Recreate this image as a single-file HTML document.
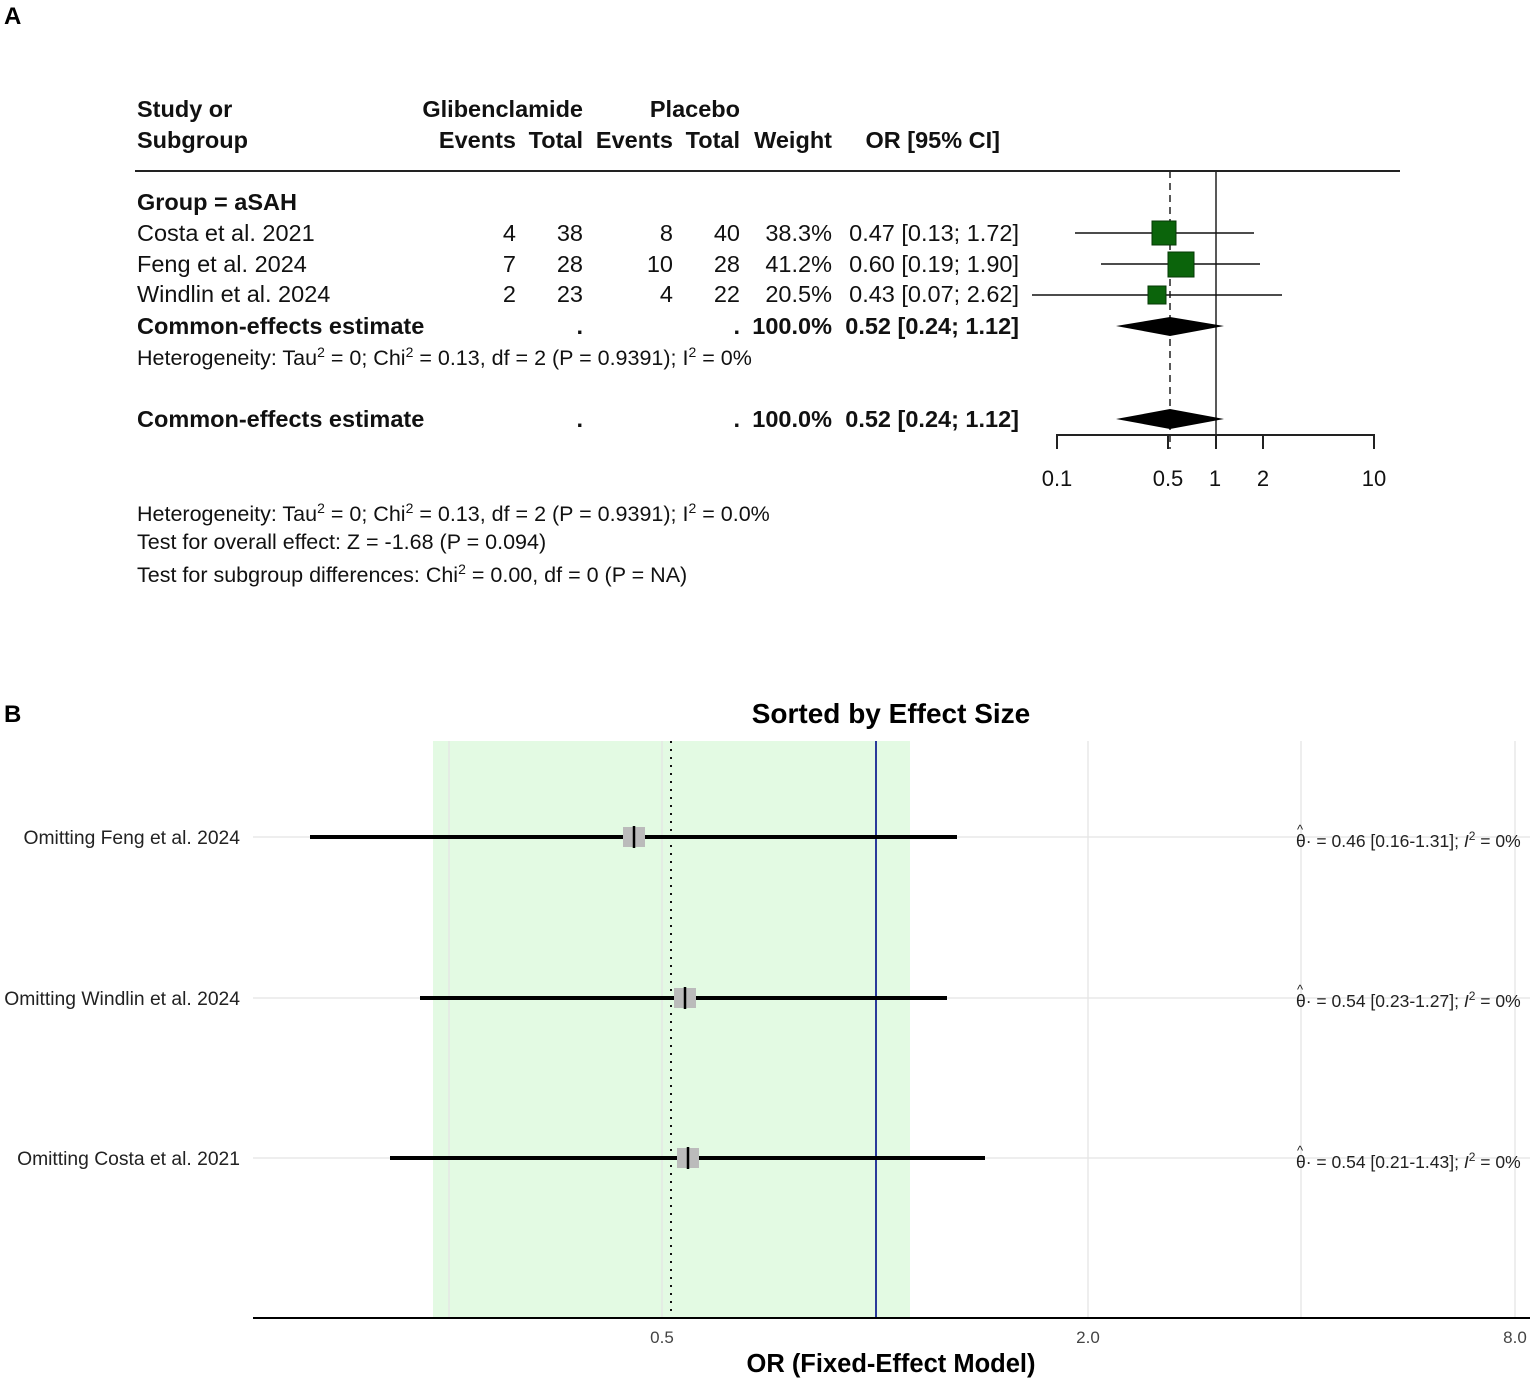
<!DOCTYPE html>
<html><head><meta charset="utf-8"><style>
html,body{margin:0;padding:0;background:#fff}
svg{display:block}
text{font-family:"Liberation Sans",Arial,sans-serif}
</style></head><body>
<svg width="1535" height="1381" viewBox="0 0 1535 1381" xmlns="http://www.w3.org/2000/svg">
<!-- Panel A -->
<text x="4" y="24" font-size="24" font-weight="bold">A</text>
<g font-size="23.5" fill="#111">
<g font-weight="bold">
<text x="137" y="117">Study or</text>
<text x="137" y="148">Subgroup</text>
<text x="583" y="117" text-anchor="end">Glibenclamide</text>
<text x="740" y="117" text-anchor="end">Placebo</text>
<text x="516" y="148" text-anchor="end">Events</text>
<text x="583" y="148" text-anchor="end">Total</text>
<text x="673" y="148" text-anchor="end">Events</text>
<text x="740" y="148" text-anchor="end">Total</text>
<text x="832" y="148" text-anchor="end">Weight</text>
<text x="1000" y="148" text-anchor="end">OR [95% CI]</text>
<text x="137" y="210">Group = aSAH</text>
<text x="137" y="334">Common-effects estimate</text>
<text x="583" y="334" text-anchor="end">.</text>
<text x="740" y="334" text-anchor="end">.</text>
<text x="832" y="334" text-anchor="end">100.0%</text>
<text x="1019" y="334" text-anchor="end">0.52 [0.24; 1.12]</text>
<text x="137" y="427">Common-effects estimate</text>
<text x="583" y="427" text-anchor="end">.</text>
<text x="740" y="427" text-anchor="end">.</text>
<text x="832" y="427" text-anchor="end">100.0%</text>
<text x="1019" y="427" text-anchor="end">0.52 [0.24; 1.12]</text>
</g>
<text x="137" y="241">Costa et al. 2021</text>
<text x="516" y="241" text-anchor="end">4</text><text x="583" y="241" text-anchor="end">38</text>
<text x="673" y="241" text-anchor="end">8</text><text x="740" y="241" text-anchor="end">40</text>
<text x="832" y="241" text-anchor="end">38.3%</text><text x="1019" y="241" text-anchor="end">0.47 [0.13; 1.72]</text>
<text x="137" y="272">Feng et al. 2024</text>
<text x="516" y="272" text-anchor="end">7</text><text x="583" y="272" text-anchor="end">28</text>
<text x="673" y="272" text-anchor="end">10</text><text x="740" y="272" text-anchor="end">28</text>
<text x="832" y="272" text-anchor="end">41.2%</text><text x="1019" y="272" text-anchor="end">0.60 [0.19; 1.90]</text>
<text x="137" y="302">Windlin et al. 2024</text>
<text x="516" y="302" text-anchor="end">2</text><text x="583" y="302" text-anchor="end">23</text>
<text x="673" y="302" text-anchor="end">4</text><text x="740" y="302" text-anchor="end">22</text>
<text x="832" y="302" text-anchor="end">20.5%</text><text x="1019" y="302" text-anchor="end">0.43 [0.07; 2.62]</text>
<text x="137" y="365" font-size="21.5">Heterogeneity: Tau<tspan dy="-8" font-size="14">2</tspan><tspan dy="8"> = 0; Chi</tspan><tspan dy="-8" font-size="14">2</tspan><tspan dy="8"> = 0.13, df = 2 (P = 0.9391); I</tspan><tspan dy="-8" font-size="14">2</tspan><tspan dy="8"> = 0%</tspan></text>
<text x="137" y="521" font-size="21.5">Heterogeneity: Tau<tspan dy="-8" font-size="14">2</tspan><tspan dy="8"> = 0; Chi</tspan><tspan dy="-8" font-size="14">2</tspan><tspan dy="8"> = 0.13, df = 2 (P = 0.9391); I</tspan><tspan dy="-8" font-size="14">2</tspan><tspan dy="8"> = 0.0%</tspan></text>
<text x="137" y="549" font-size="21.5">Test for overall effect: Z = -1.68 (P = 0.094)</text>
<text x="137" y="582" font-size="21.5">Test for subgroup differences: Chi<tspan dy="-8" font-size="14">2</tspan><tspan dy="8"> = 0.00, df = 0 (P = NA)</tspan></text>
<g font-size="22">
<text x="1057" y="486" text-anchor="middle">0.1</text>
<text x="1168" y="486" text-anchor="middle">0.5</text>
<text x="1215" y="486" text-anchor="middle">1</text>
<text x="1263" y="486" text-anchor="middle">2</text>
<text x="1374" y="486" text-anchor="middle">10</text>
</g>
</g>
<line x1="135" y1="171" x2="1400" y2="171" stroke="#222" stroke-width="2"/>
<line x1="1216" y1="171" x2="1216" y2="449" stroke="#222" stroke-width="1.5"/>
<line x1="1170" y1="171" x2="1170" y2="449" stroke="#222" stroke-width="1.5" stroke-dasharray="7,5"/>
<line x1="1057" y1="435" x2="1374" y2="435" stroke="#222" stroke-width="2"/>
<g stroke="#222" stroke-width="2">
<line x1="1057" y1="434" x2="1057" y2="449"/><line x1="1168" y1="434" x2="1168" y2="449"/>
<line x1="1216" y1="434" x2="1216" y2="449"/><line x1="1263" y1="434" x2="1263" y2="449"/>
<line x1="1374" y1="434" x2="1374" y2="449"/>
</g>
<g stroke="#111" stroke-width="1.5">
<line x1="1075" y1="233" x2="1254" y2="233"/>
<line x1="1101" y1="264" x2="1260" y2="264"/>
<line x1="1032" y1="295" x2="1282" y2="295"/>
</g>
<rect x="1152" y="221" width="24" height="24" fill="#0b640b" stroke="#063806"/>
<rect x="1168" y="252" width="26" height="25" fill="#0b640b" stroke="#063806"/>
<rect x="1148" y="286" width="18" height="18" fill="#0b640b" stroke="#063806"/>
<polygon points="1116,326 1170,317 1224,326 1170,336" fill="#000"/>
<polygon points="1116,419 1170,409 1224,419 1170,429" fill="#000"/>

<!-- Panel B -->
<text x="4" y="722" font-size="24" font-weight="bold">B</text>
<text x="891" y="723" font-size="28" font-weight="bold" text-anchor="middle">Sorted by Effect Size</text>
<rect x="433" y="741" width="477" height="577" fill="#e3fae3"/>
<g stroke="#e4e4e4" stroke-width="1.3">
<line x1="449" y1="741" x2="449" y2="1318"/><line x1="662" y1="741" x2="662" y2="1318"/>
<line x1="1088" y1="741" x2="1088" y2="1318"/><line x1="1301" y1="741" x2="1301" y2="1318"/>
<line x1="1515" y1="741" x2="1515" y2="1318"/>
<line x1="253" y1="837" x2="1530" y2="837"/><line x1="253" y1="998" x2="1530" y2="998"/>
<line x1="253" y1="1158" x2="1530" y2="1158"/>
</g>
<line x1="671" y1="741" x2="671" y2="1318" stroke="#111" stroke-width="2" stroke-dasharray="2,6"/>
<line x1="876" y1="741" x2="876" y2="1318" stroke="#2a3a9a" stroke-width="2"/>
<g stroke="#000" stroke-width="4">
<line x1="310" y1="837" x2="957" y2="837"/>
<line x1="420" y1="998" x2="947" y2="998"/>
<line x1="390" y1="1158" x2="985" y2="1158"/>
</g>
<g fill="#bbb">
<rect x="623" y="827" width="22" height="20"/><rect x="674" y="988" width="22" height="20"/><rect x="677" y="1148" width="22" height="20"/>
</g>
<g stroke="#000" stroke-width="2.5">
<line x1="634" y1="826" x2="634" y2="848"/><line x1="685" y1="987" x2="685" y2="1009"/><line x1="688" y1="1147" x2="688" y2="1169"/>
</g>
<line x1="253" y1="1318" x2="1530" y2="1318" stroke="#000" stroke-width="2"/>
<g font-size="19.3" fill="#222" text-anchor="end">
<text x="240" y="844">Omitting Feng et al. 2024</text>
<text x="240" y="1005">Omitting Windlin et al. 2024</text>
<text x="240" y="1165">Omitting Costa et al. 2021</text>
</g>
<g font-size="17.5" fill="#222">
<text x="1296" y="847">θ· = 0.46 [0.16-1.31]; <tspan font-style="italic">I</tspan><tspan dy="-7" font-size="12">2</tspan><tspan dy="7"> = 0%</tspan></text>
<text x="1296" y="1007">θ· = 0.54 [0.23-1.27]; <tspan font-style="italic">I</tspan><tspan dy="-7" font-size="12">2</tspan><tspan dy="7"> = 0%</tspan></text>
<text x="1296" y="1168">θ· = 0.54 [0.21-1.43]; <tspan font-style="italic">I</tspan><tspan dy="-7" font-size="12">2</tspan><tspan dy="7"> = 0%</tspan></text>
<text x="1297" y="834" font-size="13">^</text>
<text x="1297" y="994" font-size="13">^</text>
<text x="1297" y="1155" font-size="13">^</text>
</g>
<g font-size="17" fill="#444" text-anchor="middle">
<text x="662" y="1343">0.5</text><text x="1088" y="1343">2.0</text><text x="1515" y="1343">8.0</text>
</g>
<text x="891" y="1372" font-size="25.5" font-weight="bold" text-anchor="middle">OR (Fixed-Effect Model)</text>
</svg>
</body></html>
